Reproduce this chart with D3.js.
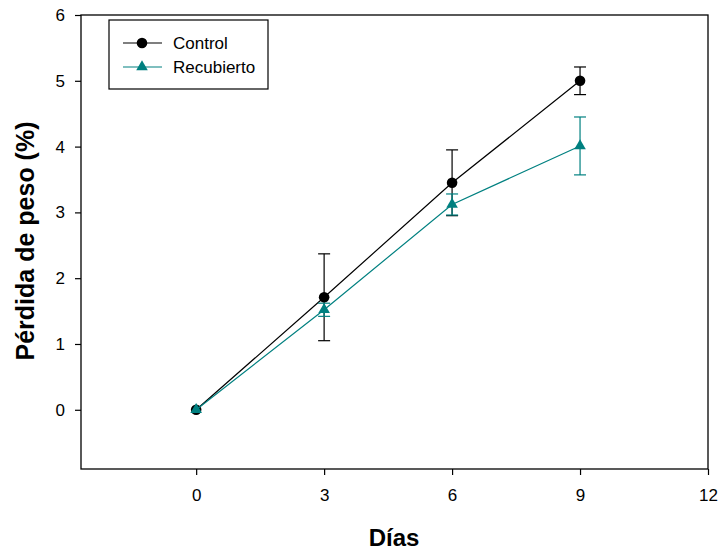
<!DOCTYPE html>
<html>
<head>
<meta charset="utf-8">
<script src="https://cdn.jsdelivr.net/npm/d3@7"></script>
<style>
body{margin:0;background:#fff;}
svg{font-family:"Liberation Sans",Arial,sans-serif;}
</style>
</head>
<body>
<svg id="svg" width="720" height="550"></svg>
<script>
var days=[0,3,6,9];
var control=[0,1.71,3.45,5.0];
var controlErr=[0,0.66,0.5,0.21];
var recub=[0,1.52,3.12,4.01];
var recubErr=[0,0.1,0.16,0.44];
var xTicks=[0,3,6,9,12];
var yTicks=[0,1,2,3,4,5,6];

var teal="#008080";
var svg=d3.select("#svg");
var padding={top:15,right:12,bottom:81,left:81};
var chartArea={
    width:720-padding.left-padding.right,
    height:550-padding.top-padding.bottom
};

var xScale=d3.scaleLinear().domain([-2.7,12]).range([0,chartArea.width]);
var yScale=d3.scaleLinear().domain([-0.9,6]).range([chartArea.height,0]);

var g=svg.append("g").attr("transform","translate("+padding.left+","+padding.top+")");

// frame
g.append("rect").attr("width",chartArea.width).attr("height",chartArea.height)
    .attr("fill","none").attr("stroke","#000").attr("stroke-width",1.3);

var xAxis=g.append("g").attr("transform","translate(0,"+chartArea.height+")")
    .call(d3.axisBottom(xScale).tickValues(xTicks).tickFormat(d3.format("d"))
        .tickSize(6).tickPadding(14).tickSizeOuter(0));
var yAxis=g.append("g")
    .call(d3.axisLeft(yScale).tickValues(yTicks).tickFormat(d3.format("d"))
        .tickSize(6).tickPadding(10).tickSizeOuter(0));
[xAxis,yAxis].forEach(function(a){
    a.attr("font-size",17).attr("font-family","Liberation Sans, Arial, sans-serif");
    a.select(".domain").remove();
    a.selectAll("line").attr("stroke","#000").attr("stroke-width",1.2);
    a.selectAll("text").attr("fill","#000");
});

svg.append("text").attr("x",394).attr("y",546).attr("text-anchor","middle")
    .attr("font-size",24).attr("font-weight","bold").text("Días");
svg.append("text").attr("transform","translate(34,241) rotate(-90)").attr("text-anchor","middle")
    .attr("font-size",25).attr("font-weight","bold").text("Pérdida de peso (%)");

var line=d3.line().x(function(d){return xScale(d[0]);}).y(function(d){return yScale(d[1]);});

function drawSeries(vals,errs,color,marker){
    var pts=days.map(function(d,i){return [d,vals[i],errs[i]];});
    var grp=g.append("g");
    grp.append("path").datum(pts).attr("d",line).attr("fill","none")
        .attr("stroke",color).attr("stroke-width",1.2);
    var eb=grp.selectAll(".eb").data(pts.filter(function(p){return p[2]>0;})).enter().append("g");
    eb.append("line").attr("x1",function(p){return xScale(p[0]);}).attr("x2",function(p){return xScale(p[0]);})
        .attr("y1",function(p){return yScale(p[1]-p[2]);}).attr("y2",function(p){return yScale(p[1]+p[2]);})
        .attr("stroke",color).attr("stroke-width",1.2);
    [-1,1].forEach(function(s){
        eb.append("line").attr("x1",function(p){return xScale(p[0])-6;}).attr("x2",function(p){return xScale(p[0])+6;})
            .attr("y1",function(p){return yScale(p[1]+s*p[2]);}).attr("y2",function(p){return yScale(p[1]+s*p[2]);})
            .attr("stroke",color).attr("stroke-width",1.2);
    });
    grp.selectAll(".m").data(pts).enter().append("path")
        .attr("transform",function(p){return "translate("+xScale(p[0])+","+yScale(p[1])+")";})
        .attr("d",d3.symbol().type(marker).size(marker===d3.symbolCircle?88:58))
        .attr("fill",color);
}
drawSeries(control,controlErr,"#000",d3.symbolCircle);
drawSeries(recub,recubErr,teal,d3.symbolTriangle);

// legend
var leg=svg.append("g");
leg.append("rect").attr("x",109).attr("y",20).attr("width",159).attr("height",69)
    .attr("fill","#fff").attr("stroke","#000").attr("stroke-width",1.2);
var items=[["Control","#000",d3.symbolCircle,43,88],["Recubierto",teal,d3.symbolTriangle,67,58]];
items.forEach(function(it){
    leg.append("line").attr("x1",123).attr("x2",162).attr("y1",it[3]).attr("y2",it[3])
        .attr("stroke",it[1]).attr("stroke-width",1.2);
    leg.append("path").attr("transform","translate(142,"+it[3]+")")
        .attr("d",d3.symbol().type(it[2]).size(it[4])).attr("fill",it[1]);
    leg.append("text").attr("x",173).attr("y",it[3]+6).attr("font-size",17).text(it[0]);
});
</script>
</body>
</html>
